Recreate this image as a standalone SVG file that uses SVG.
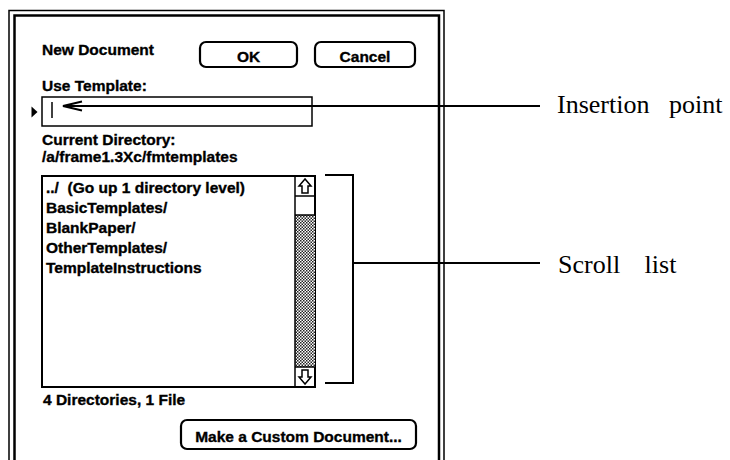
<svg xmlns="http://www.w3.org/2000/svg" width="730" height="460" viewBox="0 0 730 460">
<style>
.ui{font-family:"Liberation Sans",Arial,sans-serif;font-weight:bold;font-size:15.5px;fill:#000;stroke:#000;stroke-width:0.35}
.lbl{font-family:"Liberation Serif","Times New Roman",serif;font-size:26px;fill:#000}
.btn{fill:#fff;stroke:#000;stroke-width:2.2}
.ln{fill:none;stroke:#000;stroke-width:2}
</style>
<defs>
<pattern id="stip" width="3" height="3" patternUnits="userSpaceOnUse">
<rect width="3" height="3" fill="#fff"/>
<rect x="0" y="0" width="1.5" height="1.5" fill="#222"/>
<rect x="1.5" y="1.5" width="1.5" height="1.5" fill="#222"/>
</pattern>
</defs>
<rect width="730" height="460" fill="#fff"/>
<g id="frame">
<path d="M9,460 V10.5 H444 V460" fill="none" stroke="#000" stroke-width="1.5"/>
<path d="M14.5,460 V15.5 H439 V460" fill="none" stroke="#000" stroke-width="2.5"/>
</g>
<g id="title"><text class="ui" x="42" y="55">New Document</text></g>
<g id="ok"><rect class="btn" x="200" y="42" width="97" height="25" rx="6"/><text class="ui" x="248.5" y="62" text-anchor="middle">OK</text></g>
<g id="cancel"><rect class="btn" x="315" y="42" width="100" height="25" rx="6"/><text class="ui" x="365" y="62" text-anchor="middle">Cancel</text></g>
<g id="template">
<text class="ui" x="42" y="91">Use Template:</text>
<rect x="42" y="97" width="270" height="29" fill="#fff" stroke="#000" stroke-width="1.5"/>
<path d="M31.5,106.5 L37.5,112 L31.5,117.5 Z" fill="#000"/>
<line x1="52" y1="102" x2="52" y2="118" stroke="#000" stroke-width="1.5"/>
</g>
<g id="directory">
<text class="ui" x="42" y="145">Current Directory:</text>
<text class="ui" x="42" y="162">/a/frame1.3Xc/fmtemplates</text>
</g>
<g id="scrolllist">
<rect x="42" y="176" width="273" height="211" fill="#fff" stroke="#000" stroke-width="2"/>
<rect x="295" y="215" width="20" height="152" fill="url(#stip)"/>
<line x1="295" y1="176" x2="295" y2="387" stroke="#000" stroke-width="1.5"/>
<line x1="295" y1="196" x2="315" y2="196" stroke="#000" stroke-width="1.5"/>
<line x1="295" y1="215" x2="315" y2="215" stroke="#000" stroke-width="1.5"/>
<line x1="295" y1="367" x2="315" y2="367" stroke="#000" stroke-width="1.5"/>
<path d="M305,179 L299,186 H302 V193 H308 V186 H311 Z" fill="#fff" stroke="#000" stroke-width="1.5"/>
<path d="M305,384 L299,377 H302 V370 H308 V377 H311 Z" fill="#fff" stroke="#000" stroke-width="1.5"/>
<text class="ui" x="46" y="193" xml:space="preserve">../  (Go up 1 directory level)</text>
<text class="ui" x="46" y="213">BasicTemplates/</text>
<text class="ui" x="46" y="233">BlankPaper/</text>
<text class="ui" x="46" y="253">OtherTemplates/</text>
<text class="ui" x="46" y="273">TemplateInstructions</text>
</g>
<g id="count"><text class="ui" x="43" y="405">4 Directories, 1 File</text></g>
<g id="custom"><rect class="btn" x="181" y="420" width="235" height="29" rx="6"/><text class="ui" x="298.5" y="442" text-anchor="middle">Make a Custom Document...</text></g>
<g id="connectors">
<line x1="63" y1="106" x2="540" y2="106" class="ln"/>
<path d="M82,101.5 L63,106 L82,110.5" class="ln"/>
<path d="M325,175 H353 V383 H325" class="ln"/>
<line x1="353" y1="263" x2="540" y2="263" class="ln"/>
</g>
<g id="label-insertion"><text class="lbl" x="557" y="113" word-spacing="13">Insertion point</text></g>
<g id="label-scroll"><text class="lbl" x="558" y="273" word-spacing="18">Scroll list</text></g>
</svg>
